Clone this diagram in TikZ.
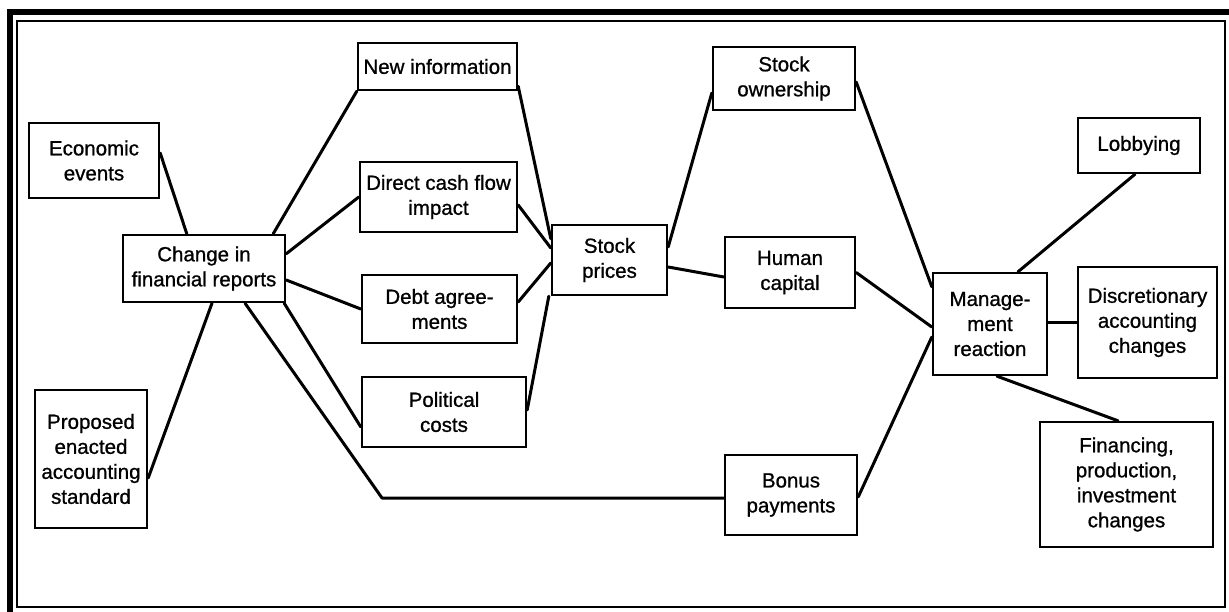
\documentclass[tikz,border=0pt]{standalone}
\usepackage{fontspec}
\setmainfont{Liberation Sans}
\newfontfamily\heavyfont[FakeBold=0.9]{Liberation Sans}
\usetikzlibrary{calc}
\begin{document}
\begin{tikzpicture}[x=1pt,y=-1pt,
  box/.style={draw=black,line width=2.4pt,rectangle,inner sep=0pt,align=center,
    font=\heavyfont\fontsize{20.5}{25}\selectfont},
  conn/.style={draw=black,line width=3pt,line cap=round,line join=round}]
\useasboundingbox (0,0) rectangle (1229,612);
% frame
\draw[line width=6pt] (10,612) -- (10,12) -- (1229,12);
\draw[line width=1.6pt] (17,21) rectangle (1225,607);
% nodes
\node[box,minimum width=130pt,minimum height=75pt] (econ) at (94,160.5) {Economic\\events};
\node[box,minimum width=162pt,minimum height=67pt] (chg) at (204,268.5) {Change in\\financial reports};
\node[box,minimum width=112pt,minimum height=138pt] (prop) at (91,459) {Proposed\\enacted\\accounting\\standard};
\node[box,minimum width=159pt,minimum height=47pt] (newinfo) at (437.5,66.5) {New information};
\node[box,minimum width=157pt,minimum height=70pt] (cash) at (438.5,197) {Direct cash flow\\impact};
\node[box,minimum width=155pt,minimum height=68pt] (debt) at (439.5,309) {Debt agree-\\ments};
\node[box,minimum width=164pt,minimum height=70pt] (pol) at (444,412) {Political\\costs};
\node[box,minimum width=115pt,minimum height=70pt] (sp) at (609.5,260) {Stock\\prices};
\node[box,minimum width=142pt,minimum height=63pt] (own) at (784,78.5) {Stock\\ownership};
\node[box,minimum width=130pt,minimum height=71pt] (hum) at (790,272.5) {Human\\capital};
\node[box,minimum width=132pt,minimum height=80pt] (bonus) at (791,495) {Bonus\\payments};
\node[box,minimum width=114pt,minimum height=102pt] (mgmt) at (990,324) {Manage-\\ment\\reaction};
\node[box,minimum width=122pt,minimum height=55pt] (lobby) at (1139,145.5) {Lobbying};
\node[box,minimum width=139pt,minimum height=111pt] (disc) at (1147.5,322.5) {Discretionary\\accounting\\changes};
\node[box,minimum width=173pt,minimum height=125pt] (fin) at (1126.5,484.5) {Financing,\\production,\\investment\\changes};
\coordinate (bend) at (382,498);
% connectors
\draw[conn] ([yshift=7.5pt]econ.east) -- ([xshift=65pt]chg.north west);
\draw[conn] ([xshift=-13pt]chg.north east) -- (newinfo.south west);
\draw[conn] ([yshift=-20pt]chg.north east) -- (cash.west);
\draw[conn] ([yshift=-11.5pt]chg.east) -- (debt.west);
\draw[conn] ([xshift=-2pt]chg.south east) -- ([yshift=-15pt]pol.west);
\draw[conn] ([xshift=41pt]chg.south) -- (bend) -- (bend -| bonus.west);
\draw[conn] ([xshift=8pt]chg.south) -- ([yshift=-19pt]prop.east);
\draw[conn] ([yshift=5pt]newinfo.south east) -- ([yshift=-15pt]sp.north west);
\draw[conn] ([yshift=-8pt]cash.east) -- ([yshift=12pt]sp.west);
\draw[conn] ([yshift=7pt]debt.east) -- ([yshift=-3pt]sp.west);
\draw[conn] ([yshift=2pt]pol.east) -- ([xshift=-2pt]sp.south west);
\draw[conn] ([yshift=13pt]sp.east) -- ([yshift=-14.5pt]own.west);
\draw[conn] ([yshift=-7pt]sp.east) -- ([yshift=-4.5pt]hum.west);
\draw[conn] ([yshift=-3.5pt]own.east) -- ([yshift=-15pt]mgmt.north west);
\draw[conn] (hum.east) -- ([yshift=-3pt]mgmt.west);
\draw[conn] ([yshift=-2pt]bonus.east) -- ([yshift=-13pt]mgmt.west);
\draw[conn] ([xshift=28pt]mgmt.north) -- ([xshift=-4pt]lobby.south);
\draw[conn] (mgmt.east |- disc.west) -- (disc.west);
\draw[conn] ([xshift=7pt]mgmt.south) -- ([xshift=-8.5pt]fin.north);
\end{tikzpicture}
\end{document}
